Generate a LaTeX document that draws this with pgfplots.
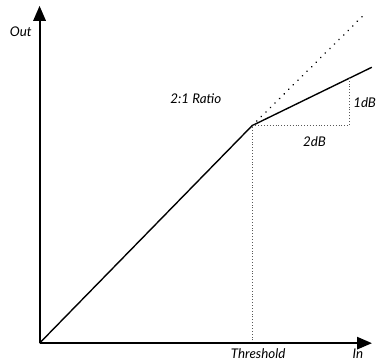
\documentclass[border=0pt]{standalone}
\usepackage{pgfplots}
\pgfplotsset{compat=1.18}
\usetikzlibrary{arrows.meta}
\usepackage{fontspec}
\setmainfont{Lato}
\begin{document}
\begin{tikzpicture}
\begin{axis}[
    x=1pt, y=1pt,
    xmin=0, xmax=336, ymin=0, ymax=341,
    axis lines=none,
    xtick=\empty, ytick=\empty,
    clip=false,
    font=\itshape\fontsize{13.5}{15}\selectfont,
]
% invisible frame so that labels fit
\path (axis cs:-40,-17) rectangle (axis cs:336,347);
\coordinate (O) at (axis cs:0,0);
\coordinate (X) at (axis cs:336,0);
\coordinate (Y) at (axis cs:0,341);

% compressor curve
\addplot[black, line width=1.4pt] coordinates {(0,0) (215,220) (336,279)};
% 1:1 continuation
\addplot[black, line width=1.8pt, dash pattern=on 0.01pt off 6.5pt, line cap=round] coordinates {(215,220) (326,330)};
% threshold and ratio guides
\addplot[gray!70!black, line width=0.9pt, dotted] coordinates {(215,0) (215,220) (313,220) (313,268)};

\node at (axis cs:-19,315) {Out};
\node at (axis cs:322,-11) {In};
\node at (axis cs:221,-11) {Threshold};
\node at (axis cs:158,247) {2:1 Ratio};
\node[anchor=west, inner sep=0pt] at (axis cs:317,243) {1dB};
\node at (axis cs:278,204) {2dB};
\end{axis}
% axes with arrow heads
\fill[black] (X) -- ++(-15pt,6.5pt) -- ++(0,-13pt) -- cycle;
\fill[black] (Y) -- ++(6.5pt,-15pt) -- ++(-13pt,0) -- cycle;
\draw[black, line width=2pt] (O) -- ([xshift=-10pt]X);
\draw[black, line width=2pt] (O) -- ([yshift=-10pt]Y);
\end{tikzpicture}
\end{document}
